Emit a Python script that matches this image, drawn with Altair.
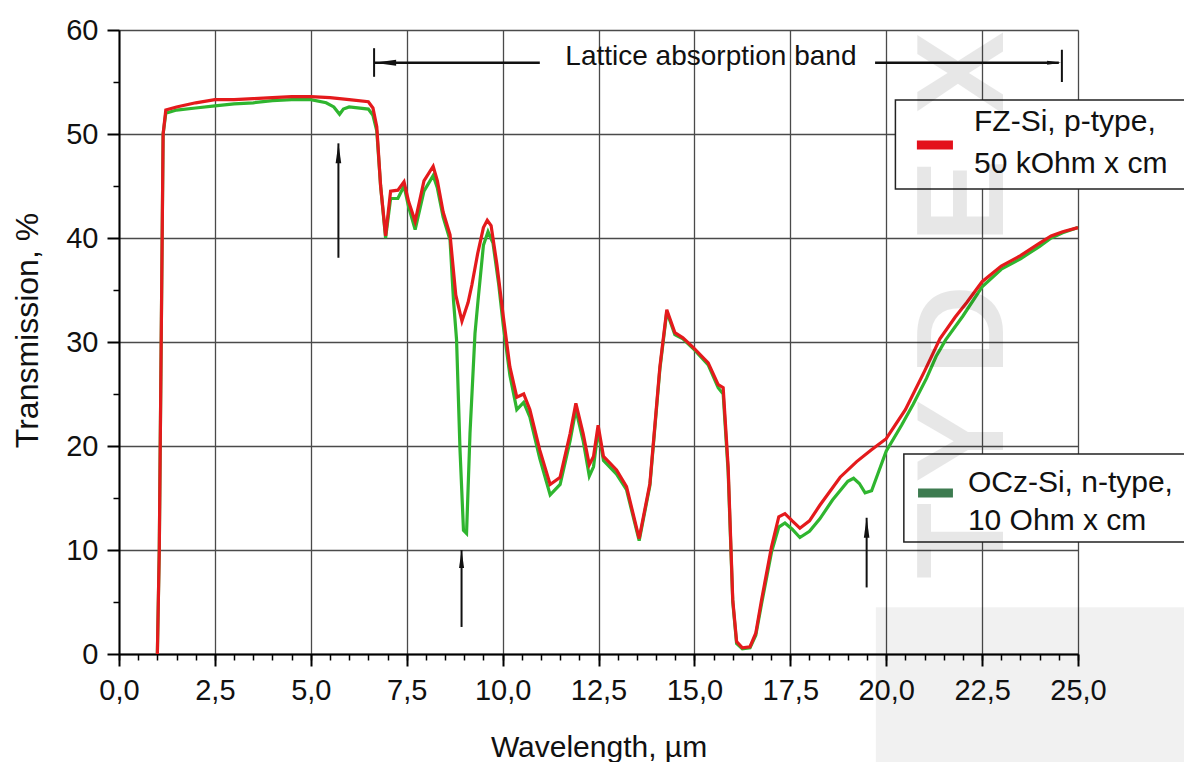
import altair as alt
import pandas as pd

# ---------------- data ----------------
fz_x = [1.00, 1.05, 1.10, 1.15, 1.22, 1.5, 2.0, 2.5, 3.0, 3.5, 4.0, 4.5, 5.0, 5.5, 6.0, 6.5,
        6.62, 6.72, 6.82, 6.95, 7.08, 7.27, 7.43, 7.55, 7.72, 7.95, 8.19, 8.3, 8.45, 8.63,
        8.78, 8.94, 9.1, 9.2, 9.35, 9.5, 9.6, 9.7, 9.85, 10.02,
        10.19, 10.37, 10.55, 10.71, 10.97, 11.24, 11.5, 11.76, 11.91, 12.1,
        12.26, 12.37, 12.49, 12.63, 12.97, 13.23, 13.56, 13.84, 14.1, 14.28,
        14.49, 14.7, 14.96, 15.36, 15.62, 15.75, 15.88, 16.0, 16.1, 16.25,
        16.45, 16.6, 16.75, 17.01, 17.2, 17.36, 17.55, 17.75, 18.0, 18.27,
        18.8, 19.23, 19.6, 20.0, 20.5, 21.0, 21.4, 21.8, 22.1, 22.5,
        23.0, 23.5, 24.0, 24.3, 24.6, 25.0]
fz_y = [0, 10, 30, 50, 52.3, 52.6, 53.0, 53.3, 53.3, 53.4, 53.5, 53.6, 53.6, 53.5, 53.3, 53.1,
        52.5, 50.7, 45.0, 40.2, 44.5, 44.6, 45.4, 43.5, 41.6, 45.5, 46.9, 45.5, 42.5, 40.3,
        34.5, 32.0, 33.8, 35.5, 38.5, 41.0, 41.7, 41.2, 37.5, 32.4,
        27.6, 24.7, 25.0, 23.5, 19.6, 16.3, 17.0, 21.2, 24.1, 21.2,
        18.2, 19.0, 22.0, 19.0, 17.7, 16.1, 11.1, 16.4, 27.6, 33.1,
        30.9, 30.4, 29.5, 28.0, 25.9, 25.6, 18.0, 5.2, 1.2, 0.6,
        0.7, 2.0, 5.2, 10.3, 13.2, 13.5, 12.8, 12.1, 12.8, 14.3,
        17.0, 18.5, 19.6, 20.7, 23.5, 27.2, 30.3, 32.4, 33.8, 35.8,
        37.3, 38.3, 39.5, 40.2, 40.6, 41.0]

ocz_x = [1.00, 1.05, 1.10, 1.15, 1.22, 1.5, 2.0, 2.5, 3.0, 3.5, 4.0, 4.5, 5.0,
         5.4, 5.6, 5.75, 5.85, 6.0, 6.5,
         6.62, 6.72, 6.82, 6.95, 7.08, 7.27, 7.43, 7.55, 7.72, 7.95,
         8.19, 8.3, 8.45, 8.63, 8.72, 8.80, 8.89, 8.98, 9.06, 9.15,
         9.28, 9.36, 9.5, 9.62, 9.75, 9.9, 10.02, 10.19, 10.37, 10.55,
         10.71, 10.97, 11.24, 11.5, 11.76, 11.91, 12.1, 12.26, 12.37, 12.49,
         12.63, 12.97, 13.23, 13.56, 13.84, 14.1, 14.28, 14.49, 14.7, 14.96,
         15.36, 15.62, 15.75, 15.88, 16.0, 16.1, 16.25, 16.45, 16.6, 16.75,
         17.01, 17.2, 17.36, 17.55, 17.75, 18.0, 18.27, 18.6, 19.0, 19.15,
         19.3, 19.45, 19.62, 19.8, 20.0, 20.4, 20.7, 21.05, 21.3, 21.55,
         22.0, 22.5, 23.0, 23.5, 24.0, 24.3, 24.6, 25.0]
ocz_y = [0, 10, 30, 50, 52.0, 52.3, 52.5, 52.7, 52.9, 53.0, 53.2, 53.3, 53.3,
         53.0, 52.6, 51.9, 52.4, 52.6, 52.4,
         51.8, 50.3, 45.0, 40.0, 43.8, 43.8, 45.0, 43.0, 40.8, 44.5,
         46.0, 44.8, 42.0, 39.8, 34.0, 30.2, 19.6, 11.9, 11.6, 21.2,
         30.8, 34.0, 39.3, 40.6, 39.5, 35.5, 31.5, 26.8, 23.5, 24.2,
         22.8, 18.8, 15.3, 16.3, 20.5, 23.5, 20.5, 17.1, 18.0, 21.5,
         18.6, 17.3, 15.8, 10.9, 16.2, 27.4, 32.9, 30.7, 30.3, 29.4,
         27.8, 25.6, 25.0, 17.5, 5.0, 1.0, 0.5, 0.6, 1.8, 4.8,
         9.8, 12.2, 12.6, 12.0, 11.2, 11.8, 13.0, 14.8, 16.6, 16.9,
         16.4, 15.5, 15.7, 17.5, 19.5, 22.0, 24.0, 26.5, 28.6, 30.2,
         32.5, 35.3, 37.0, 38.0, 39.2, 40.0, 40.5, 41.0]

# tick values / labels
x_major = [0.0, 2.5, 5.0, 7.5, 10.0, 12.5, 15.0, 17.5, 20.0, 22.5, 25.0]
x_minor = [v / 2 for v in range(0, 51)]
y_major = [0, 10, 20, 30, 40, 50, 60]
y_minor = [5, 15, 25, 35, 45, 55]

# annotations
up_arrow_x = [5.72, 8.93, 19.49]
up_arrow_tail = [38.1, 2.6, 6.4]
up_arrow_tip = [49.1, 10.0, 13.1]

band_label = ["Lattice absorption band"]
band_label_x = [15.43]
band_label_y = [56.63]
band_shaft_x0 = [6.65, 19.71]
band_shaft_x1 = [10.97, 24.5]
band_shaft_y = [56.85, 56.85]
band_bar_x = [6.65, 24.58]
band_bar_y0 = [55.5, 55.0]
band_bar_y1 = [58.25, 58.1]

head_x = [5.72, 8.93, 19.49, 6.65, 24.56]
head_y = [49.1, 10.0, 13.1, 56.85, 56.85]
head_angle = [0, 0, 0, 270, 90]
head_size = [400, 324, 400, 484, 196]

# legend boxes
legend_x0 = [20.24, 20.46]
legend_x1 = [28.6, 28.6]
legend_y0 = [53.27, 19.23]
legend_y1 = [44.71, 10.77]
swatch_x0 = [20.80, 20.83]
swatch_x1 = [21.74, 21.74]
swatch_y = [48.94, 15.48]
swatch_color = ["#e3101c", "#3d7b50"]
legend_lines = ["FZ-Si, p-type,", "50 kOhm x cm", "OCz-Si, n-type,", "10 Ohm x cm"]
legend_line_x = [22.29, 22.29, 22.13, 22.13]
legend_line_y = [50.29, 46.25, 15.61, 11.92]

# watermark
wm_letters = ["T", "Y", "D", "E", "X"]
wm_x = [22.05, 22.05, 22.05, 22.05, 22.05]
wm_y = [10.87, 20.48, 31.15, 43.56, 55.87]
logo_x0 = [19.73]
logo_x1 = [28.6]
logo_y0 = [4.5]
logo_y1 = [-10.6]

RED = "#e41a1c"
GREEN = "#2fb52f"
GRID = "#4a4a4a"
FONT = "Liberation Sans"

# ---------------- tables ----------------
fz_df = pd.DataFrame({"x": fz_x, "y": fz_y})
ocz_df = pd.DataFrame({"x": ocz_x, "y": ocz_y})
up_df = pd.DataFrame({"x": up_arrow_x, "y0": up_arrow_tail, "y1": up_arrow_tip})
bandlab_df = pd.DataFrame({"t": band_label, "x": band_label_x, "y": band_label_y})
bandshaft_df = pd.DataFrame({"x0": band_shaft_x0, "x1": band_shaft_x1, "y": band_shaft_y})
bandbar_df = pd.DataFrame({"x": band_bar_x, "y0": band_bar_y0, "y1": band_bar_y1})
head_df = pd.DataFrame({"x": head_x, "y": head_y, "a": head_angle, "s": head_size})
box_df = pd.DataFrame({"x0": legend_x0, "x1": legend_x1, "y0": legend_y0, "y1": legend_y1})
sw_df = pd.DataFrame({"x0": swatch_x0, "x1": swatch_x1, "y": swatch_y, "c": swatch_color})
lt_df = pd.DataFrame({"t": legend_lines, "x": legend_line_x, "y": legend_line_y})
wm_df = pd.DataFrame({"t": wm_letters, "x": wm_x, "y": wm_y})
logo_df = pd.DataFrame({"x0": logo_x0, "x1": logo_x1, "y0": logo_y0, "y1": logo_y1})

xs = alt.Scale(domain=[0, 25], nice=False, zero=False)
ys = alt.Scale(domain=[0, 60], nice=False, zero=False)

major_x = alt.Axis(values=x_major, orient="bottom",
                   labelExpr="replace(format(datum.value, '.1f'), '.', ',')",
                   grid=True, gridColor=GRID, gridWidth=1.3,
                   tickSize=12, tickWidth=2, tickColor="black",
                   domainColor="black", domainWidth=2,
                   labelFontSize=29, labelFont=FONT, labelColor="#111", labelPadding=10,
                   labelFlush=False, labelOverlap=False,
                   title="Wavelength, µm", titleFont=FONT, titleFontSize=30,
                   titleFontWeight="normal", titleColor="#111",
                   titleY=102, titleBaseline="alphabetic")
minor_x = alt.Axis(values=x_minor, orient="bottom", labels=False, grid=False,
                   domain=False, tickSize=6, tickWidth=1.5, tickColor="black", title=None)
major_y = alt.Axis(values=y_major, orient="left", format="d",
                   grid=True, gridColor=GRID, gridWidth=1.3,
                   tickSize=12, tickWidth=2, tickColor="black",
                   domainColor="black", domainWidth=2,
                   labelFontSize=29, labelFont=FONT, labelColor="#111", labelPadding=9,
                   labelOverlap=False,
                   title="Transmission, %", titleFont=FONT, titleFontSize=32,
                   titleFontWeight="normal", titleColor="#111",
                   titleX=-82, titleY=300, titleBaseline="alphabetic", titleAngle=270)
minor_y = alt.Axis(values=y_minor, orient="left", labels=False, grid=False,
                   domain=False, tickSize=6, tickWidth=1.5, tickColor="black", title=None)

green = alt.Chart(ocz_df).mark_line(color=GREEN, strokeWidth=3.2).encode(
    x=alt.X("x:Q", scale=xs, axis=minor_x),
    y=alt.Y("y:Q", scale=ys, axis=minor_y))
red = alt.Chart(fz_df).mark_line(color=RED, strokeWidth=3.2).encode(
    x=alt.X("x:Q", scale=xs, axis=major_x),
    y=alt.Y("y:Q", scale=ys, axis=major_y))

boxes = alt.Chart(box_df).mark_rect(fill="white", stroke="#222", strokeWidth=1.5).encode(
    x=alt.X("x0:Q", scale=xs, axis=None), x2="x1:Q",
    y=alt.Y("y0:Q", scale=ys, axis=None), y2="y1:Q")
swatches = alt.Chart(sw_df).mark_rule(strokeWidth=9).encode(
    x=alt.X("x0:Q", scale=xs, axis=None), x2="x1:Q",
    y=alt.Y("y:Q", scale=ys, axis=None),
    color=alt.Color("c:N", scale=None))
legend_text = alt.Chart(lt_df).mark_text(font=FONT, fontSize=30, align="left",
                                         baseline="alphabetic", color="#111").encode(
    x=alt.X("x:Q", scale=xs, axis=None), y=alt.Y("y:Q", scale=ys, axis=None), text="t:N")

up_shafts = alt.Chart(up_df).mark_rule(strokeWidth=2, color="#111").encode(
    x=alt.X("x:Q", scale=xs, axis=None),
    y=alt.Y("y0:Q", scale=ys, axis=None), y2="y1:Q")
band_shafts = alt.Chart(bandshaft_df).mark_rule(strokeWidth=2.5, color="#111").encode(
    x=alt.X("x0:Q", scale=xs, axis=None), x2="x1:Q",
    y=alt.Y("y:Q", scale=ys, axis=None))
band_bars = alt.Chart(bandbar_df).mark_rule(strokeWidth=2, color="#111").encode(
    x=alt.X("x:Q", scale=xs, axis=None),
    y=alt.Y("y0:Q", scale=ys, axis=None), y2="y1:Q")
heads = alt.Chart(head_df).mark_point(shape="M0,0L0.28,2L-0.28,2Z", filled=True,
                                      color="#111", opacity=1, strokeWidth=0).encode(
    x=alt.X("x:Q", scale=xs, axis=None),
    y=alt.Y("y:Q", scale=ys, axis=None),
    angle=alt.Angle("a:Q", scale=None),
    size=alt.Size("s:Q", scale=None))
band_text = alt.Chart(bandlab_df).mark_text(font=FONT, fontSize=28, align="center",
                                           baseline="alphabetic", color="#111").encode(
    x=alt.X("x:Q", scale=xs, axis=None), y=alt.Y("y:Q", scale=ys, axis=None), text="t:N")

watermark = alt.Chart(wm_df).mark_text(font=FONT, fontWeight="bold", fontSize=125,
                                       angle=270, align="center", baseline="middle",
                                       color="black", opacity=0.09).encode(
    x=alt.X("x:Q", scale=xs, axis=None), y=alt.Y("y:Q", scale=ys, axis=None), text="t:N")
logo = alt.Chart(logo_df).mark_rect(color="black", opacity=0.055).encode(
    x=alt.X("x0:Q", scale=xs, axis=None), x2="x1:Q",
    y=alt.Y("y0:Q", scale=ys, axis=None), y2="y1:Q")

chart = alt.layer(
    green, red, boxes, swatches, legend_text,
    up_shafts, band_shafts, band_bars, heads, band_text, watermark, logo
).resolve_axis(x="independent", y="independent").properties(
    width=959, height=624,
    padding={"left": 119, "top": 30, "right": 106, "bottom": 108},
    autosize=alt.AutoSizeParams(type="none"),
    background="white",
).configure_view(stroke="black", strokeWidth=2).configure(font=FONT)

chart.save("out.html", embed_options={"renderer": "svg", "actions": False})
